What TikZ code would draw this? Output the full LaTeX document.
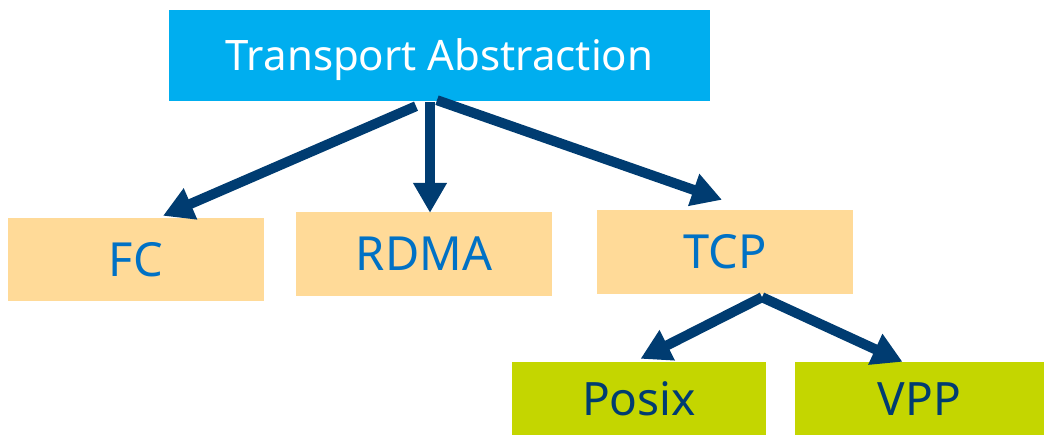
\documentclass[tikz,border=0pt]{standalone}
\usepackage{fontspec}
\setmainfont{Noto Sans}
\usetikzlibrary{arrows.meta,calc}
\definecolor{topcyan}{HTML}{00AEEF}
\definecolor{peach}{HTML}{FFDA98}
\definecolor{lime}{HTML}{C4D600}
\definecolor{intelblue}{HTML}{0071C5}
\definecolor{navy}{HTML}{003C71}
\tikzset{
  box/.style={rectangle, inner sep=0pt, text depth=0pt},
  rootbox/.style={box, fill=topcyan, text=white, text height=30pt, font=\fontsize{42}{42}\selectfont},
  midbox/.style={box, fill=peach, text=intelblue, text height=33.5pt, font=\fontsize{47}{47}\selectfont},
  leafbox/.style={box, fill=lime, text=navy, text height=33pt, font=\fontsize{46}{46}\selectfont},
  link/.style={draw=navy, line width=10pt, -{Triangle[length=30pt,width=32pt]}}
}
\begin{document}
\begin{tikzpicture}[x=1pt, y=-1pt]
  \useasboundingbox (0,0) rectangle (1044,435);
  % boxes
  \node[rootbox, minimum width=541pt, minimum height=91pt] (root) at (439.5,55.5) {Transport Abstraction};
  \node[midbox, minimum width=256pt, minimum height=83pt] (fc) at (136,259.5) {FC};
  \node[midbox, minimum width=256pt, minimum height=84pt] (rdma) at (424,254) {RDMA};
  \node[midbox, minimum width=256pt, minimum height=84pt] (tcp) at (725,252) {TCP};
  \node[leafbox, minimum width=254pt, minimum height=73pt] (posix) at (639,398.5) {Posix};
  \node[leafbox, minimum width=249pt, minimum height=73pt] (vpp) at (919.5,398.5) {VPP};
  % connectors
  \draw[link] ($(root.south)+(-23.5,5)$) -- ($(fc.north)+(27,-2)$);
  \draw[link] ($(root.south)+(-9.5,1)$) -- ($(rdma.north)+(6,1)$);
  \draw[link] ($(root.south)+(-2.5,-1)$) -- ($(tcp.north)+(-3,-10)$);
  \draw[link] ($(tcp.south)+(37,3)$) -- ($(posix.north)+(1.5,-3)$);
  \draw[link] ($(tcp.south)+(37,3)$) -- ($(vpp.north)+(-17,0)$);
\end{tikzpicture}
\end{document}
